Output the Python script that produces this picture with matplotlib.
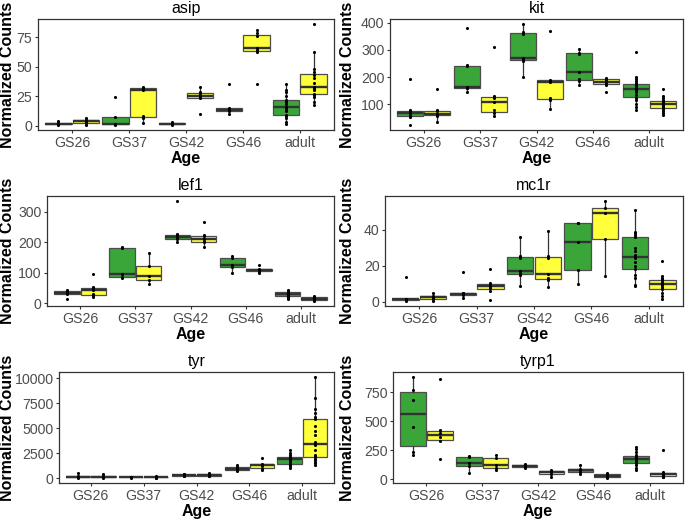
import numpy as np
import matplotlib
matplotlib.use("Agg")
import matplotlib.pyplot as plt

plt.rcParams['font.family'] = ['Liberation Sans', 'DejaVu Sans']

ages = ['GS26', 'GS37', 'GS42', 'GS46', 'adult']

# values, one list per age (green group, yellow group)
asip_green = [[0.5, 1.0, 1.5, 2.5, 3.5],
              [0.5, 1.0, 1.5, 7, 24],
              [0.5, 1.0, 1.5, 2.0, 3.0],
              [10, 12, 13, 14, 15, 35],
              [1, 3, 6, 8, 9, 12, 14, 15, 16, 18, 20, 21, 22, 25, 28, 30, 35]]
asip_yellow = [[0.5, 2, 3, 4, 5, 6],
               [2, 6, 8, 30, 31, 32, 33],
               [10, 23, 24, 25, 27, 28, 33],
               [35, 62, 64, 66, 76, 78, 81],
               [17, 20, 24, 26, 27, 30, 31, 32, 33, 36, 40, 43, 45, 48, 62, 86]]

kit_green = [[25, 55, 60, 68, 75, 80, 193],
             [145, 160, 162, 165, 240, 243, 382],
             [200, 260, 265, 270, 360, 365, 395],
             [170, 185, 195, 220, 285, 290, 305],
             [80, 90, 100, 115, 125, 135, 145, 150, 153, 158, 162, 168, 172, 178, 185, 195, 200, 292]]
kit_yellow = [[37, 58, 62, 66, 75, 80, 157],
              [57, 68, 78, 110, 125, 132, 312],
              [85, 115, 122, 183, 187, 190, 370],
              [145, 172, 178, 183, 190, 194, 197],
              [60, 68, 75, 85, 90, 93, 97, 100, 102, 105, 110, 113, 118, 125, 130, 155]]

lef1_green = [[15, 30, 33, 36, 42, 45],
              [82, 88, 97, 180, 185],
              [200, 210, 213, 217, 224, 226, 335],
              [100, 120, 125, 148, 155],
              [15, 18, 22, 25, 28, 30, 32, 35, 38, 40, 43]]
lef1_yellow = [[20, 25, 32, 45, 50, 53, 95],
               [65, 78, 91, 122, 165],
               [185, 200, 205, 210, 220, 223, 265],
               [98, 104, 108, 110, 113, 125],
               [8, 10, 12, 14, 16, 18, 20, 22, 25]]

mc1r_green = [[0.3, 0.6, 1.0, 1.3, 1.6, 13.5],
              [2, 3.5, 4, 4.5, 5, 16.5],
              [8.5, 15, 16, 17, 24, 25.5, 36],
              [10, 17.5, 33, 43.5, 44],
              [8.5, 9, 13, 15, 18, 20, 22, 24, 25, 26, 28, 30, 36, 37, 38, 39, 51]]
mc1r_yellow = [[0.5, 1.2, 2.0, 2.5, 3.2, 4.5],
               [1, 6, 7.5, 8.5, 9.5, 10.5, 18],
               [8, 12, 13, 15.5, 24, 25.5, 39.5],
               [14, 35, 49.5, 52, 56],
               [1.5, 3, 5, 7, 7.5, 8, 9, 9.5, 10, 11, 12, 12.5, 13, 14.5, 22.5]]

tyr_green = [[30, 80, 120, 150, 200, 500],
             [60, 80, 100, 120, 150],
             [180, 250, 300, 330, 380, 450],
             [700, 800, 900, 1000, 1100, 1300],
             [1000, 1200, 1300, 1400, 1600, 1800, 1900, 1950, 2000, 2100, 2150, 2300, 2500, 2800]]
tyr_yellow = [[50, 100, 130, 160, 200, 450],
              [50, 70, 100, 120, 140, 200],
              [200, 260, 300, 340, 400, 500],
              [800, 950, 1200, 1350, 1450, 2050],
              [1300, 1500, 1600, 1800, 1900, 2100, 2200, 2300, 2800, 3300, 3450,
               3600, 4300, 4700, 5200, 5900, 6100, 6500, 6900, 8000, 10100]]

tyrp1_green = [[210, 235, 450, 680, 770, 880],
               [50, 115, 140, 190, 195],
               [95, 102, 110, 118, 130],
               [45, 65, 75, 88, 120],
               [75, 100, 125, 135, 150, 160, 170, 175, 180, 190, 200, 205, 230, 260, 280]]
tyrp1_yellow = [[170, 325, 360, 400, 420, 865],
                [75, 95, 120, 185, 210],
                [20, 45, 60, 72, 80],
                [10, 15, 30, 42, 50],
                [15, 22, 28, 35, 40, 42, 48, 52, 58, 250]]

genes = ['asip', 'kit', 'lef1', 'mc1r', 'tyr', 'tyrp1']
green_data = [asip_green, kit_green, lef1_green, mc1r_green, tyr_green, tyrp1_green]
yellow_data = [asip_yellow, kit_yellow, lef1_yellow, mc1r_yellow, tyr_yellow, tyrp1_yellow]
yticks = [[0, 25, 50, 75], [100, 200, 300, 400], [0, 100, 200, 300],
          [0, 20, 40], [0, 2500, 5000, 7500, 10000], [0, 250, 500, 750]]

W, H = 685, 520
# panel boxes in pixels: left, top, right, bottom
boxes = [(38, 19, 334, 130), (390, 19, 683, 130),
         (47, 196, 334, 306), (385, 196, 683, 306),
         (59, 372, 334, 483), (393, 372, 683, 483)]
ylab_x = [8, 348]

GREEN = '#3aa63a'
YELLOW = '#ffff3a'
EDGE = '#4d4d4d'

fig = plt.figure(figsize=(W / 100, H / 100), dpi=100)

for k, gene in enumerate(genes):
    l, t, r, b = boxes[k]
    ax = fig.add_axes([l / W, 1 - b / H, (r - l) / W, (b - t) / H])
    x = np.arange(1, len(ages) + 1)
    off = 0.24
    for vals, col, sgn in [(green_data[k], GREEN, -1), (yellow_data[k], YELLOW, 1)]:
        pos = x + sgn * off
        bp = ax.boxplot(vals, positions=pos, widths=0.46, patch_artist=True,
                        showfliers=False, showcaps=False, whis=1.5,
                        medianprops=dict(color='#333333', linewidth=1.7),
                        whiskerprops=dict(color='#333333', linewidth=0.9),
                        boxprops=dict(edgecolor=EDGE, linewidth=0.9))
        for p in bp['boxes']:
            p.set_facecolor(col)
        for p_, v in zip(pos, vals):
            ax.scatter(np.full(len(v), p_), v, s=5, color='black', zorder=5, linewidths=0)
    ax.set_xlim(0.4, 5.6)
    ax.margins(y=0.05)
    ax.set_xticks(x)
    ax.set_xticklabels(ages)
    ax.set_yticks(yticks[k])
    ax.tick_params(labelsize=10.2, labelcolor='#4d4d4d', color='#333333',
                   length=2.5, width=0.8, pad=1.5)
    for s in ax.spines.values():
        s.set_color('#333333')
        s.set_linewidth(0.9)
    ax.set_title(gene, fontsize=11.5, pad=4)
    ax.set_xlabel('Age', fontsize=11.5, fontweight='bold', labelpad=1)
    fig.text(ylab_x[k % 2] / W, 1 - (t + b) / 2 / H, 'Normalized Counts',
             rotation=90, fontsize=11.5, fontweight='bold',
             ha='center', va='center')

fig.savefig('out.png', dpi=100)
